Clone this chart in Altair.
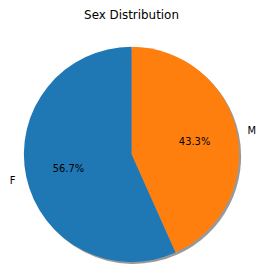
import altair as alt
import pandas as pd

categories = ["M", "F"]
shares = [43.3, 56.7]
labels = ["43.3%", "56.7%"]
order = [0, 1]

df = pd.DataFrame({"sex": categories, "share": shares, "pct": labels, "order": order})

colors = alt.Scale(domain=["F", "M"], range=["#1f77b4", "#ff7f0e"])
base = alt.Chart(df).encode(
    theta=alt.Theta("share:Q", stack=True),
    order=alt.Order("order:Q"),
)

shadow = base.mark_arc(outerRadius=108.5, xOffset=2, yOffset=2, color="#7f7f7f", opacity=0.8)
pie = base.mark_arc(outerRadius=108.5).encode(
    color=alt.Color("sex:N", scale=colors, legend=None)
)
names = base.mark_text(
    radius=119.5, fontSize=10, font="DejaVu Sans", color="black", dy=1.5,
    align=alt.expr("datum.sex == 'F' ? 'right' : 'left'"), baseline="middle",
).encode(text="sex:N")
pcts = base.mark_text(
    radius=65, fontSize=10, font="DejaVu Sans", color="black", baseline="middle", dy=1.5
).encode(text="pct:N")

chart = alt.layer(shadow, pie, names, pcts).properties(
    width=249, height=221,
    padding=0,
    title=alt.TitleParams("Sex Distribution", fontSize=12, font="DejaVu Sans",
                          fontWeight="normal", color="black", anchor="middle", offset=23),
).configure_view(stroke=None)

chart.save("out.html", embed_options={"renderer": "svg", "actions": False})
